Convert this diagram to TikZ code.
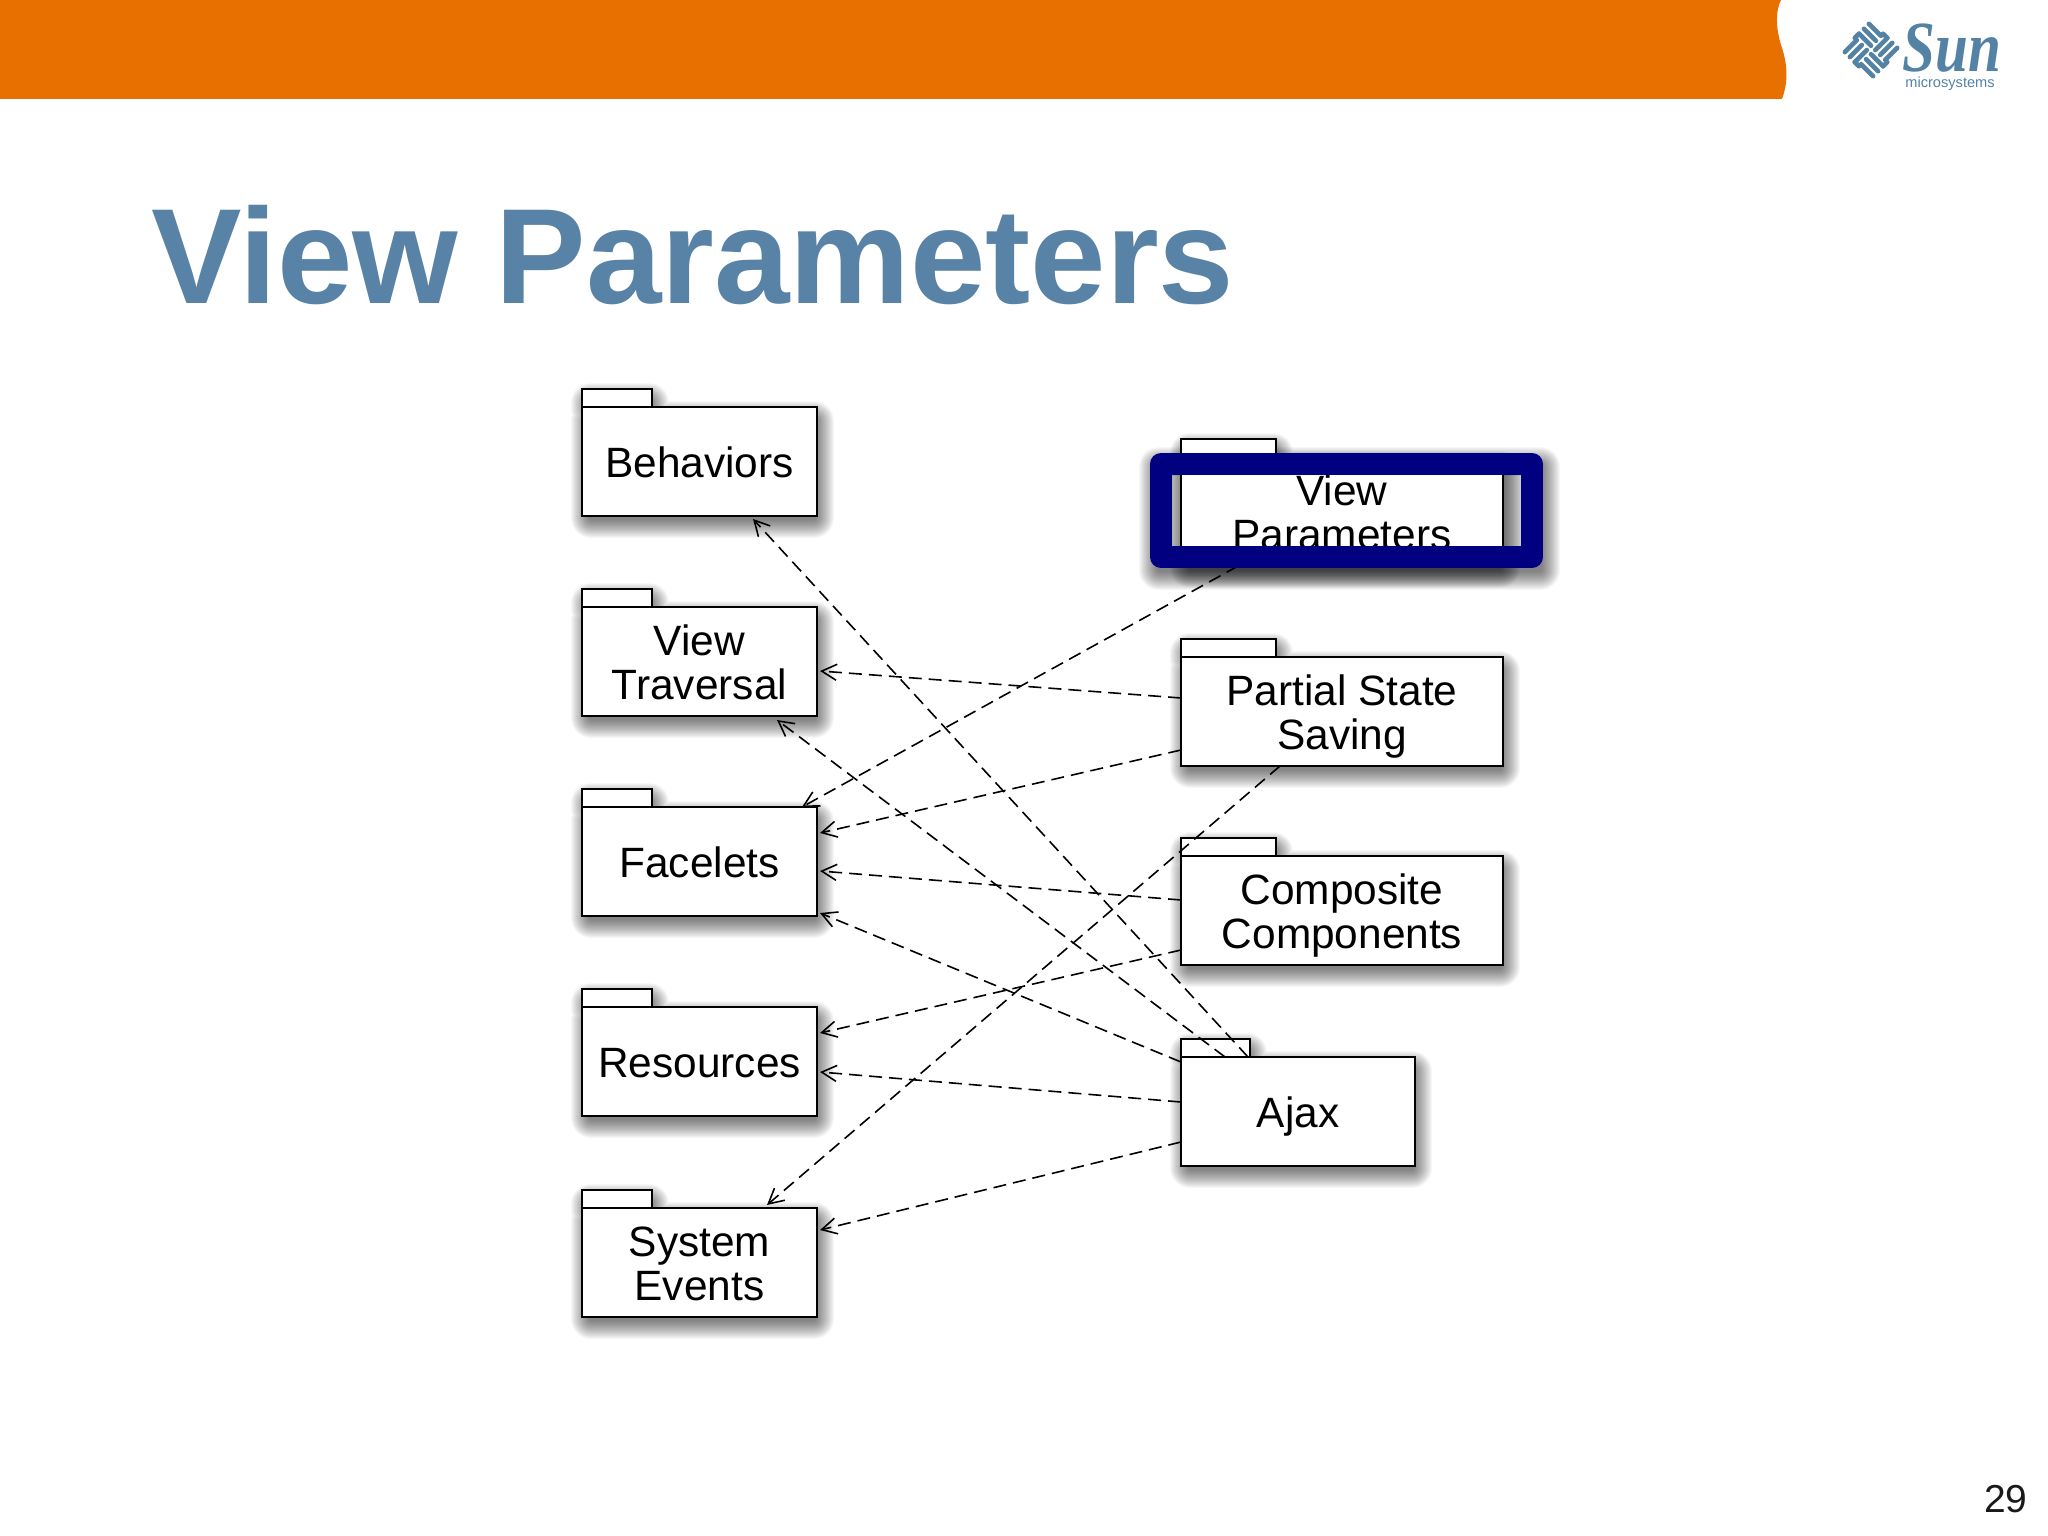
\documentclass[tikz,border=0pt]{standalone}
\usepackage{fontspec}
\setmainfont{Liberation Sans}
\newfontfamily\sunserif{Liberation Serif}
\usetikzlibrary{arrows.meta}
\definecolor{bannerorange}{RGB}{232,112,0}
\definecolor{titleblue}{RGB}{88,131,166}
\definecolor{logoblue}{RGB}{84,130,165}
\definecolor{framenavy}{RGB}{0,0,128}
\newcommand{\st}{\rule[-5.3pt]{0pt}{20.1pt}}
\newcommand{\sh}{\rule[-5.3pt]{0pt}{26.4pt}}
\tikzset{
  pkgbox/.style={draw=black,fill=white,line width=.8pt,inner sep=0pt,outer sep=0pt,align=center,
    font=\fontsize{21.2}{22.2}\selectfont},
  pkgtab/.style={draw=black,fill=white,line width=.8pt},
  dep/.style={draw=black,line width=.8pt,dash pattern=on 6.5pt off 3.5pt,
    -{Straight Barb[length=7.5pt,width=8pt,line width=.8pt]}},
  logobar/.style={draw=logoblue,line width=2.3pt,line cap=round,line join=round},
}
% shadow: x1 y1 x2 y2 tabwidth (tabwidth 0: no tab)
\newcommand{\pkgshadow}[5]{%
  \foreach \e in {14,13,...,-4}{
    \pgfmathsetmacro{\rad}{(\e+6)*0.5}
    \fill[black,opacity=.03,rounded corners=\rad pt]
      ({#1-\e+3},{#2-\e+8}) rectangle ({#3+\e+3},{#4+\e+8})
      \ifnum#5>0 ({#1-\e+3},{#2-18-\e+8}) rectangle ({#1+#5+\e+3},{#2+\e+8})\fi;
  }%
}
% body: name x1 y1 x2 y2 tabwidth text
\newcommand{\pkgbody}[7]{%
  \draw[pkgtab] (#2,#3-18) rectangle (#2+#6,#3);
  \node[pkgbox,minimum width={(#4-#2)*0.5pt},minimum height={(#5-#3)*0.5pt}] (#1)
    at ({(#2+#4)/2},{(#3+#5)/2}) {#7};
}
\newcommand{\pkg}[7]{\pkgshadow{#2}{#3}{#4}{#5}{#6}\pkgbody{#1}{#2}{#3}{#4}{#5}{#6}{#7}}
\begin{document}
\begin{tikzpicture}[x=0.5pt,y=-0.5pt]
\useasboundingbox (0,0) rectangle (2048,1535);
\fill[white] (0,0) rectangle (2048,1535);
% banner
\fill[bannerorange] (0,0) -- (1781,0) .. controls (1775,12) and (1776,28) .. (1781,45)
  .. controls (1787,62) and (1789,80) .. (1782,99) -- (0,99) -- cycle;
% logo
\begin{scope}[shift={(1871,50)},rotate=45]
  \foreach \a in {0,90,180,270}{
    \begin{scope}[rotate=\a]
      \draw[logobar] (3,-3) -- (3,-20);
      \draw[logobar] (10,-3) -- (10,-20);
      \draw[logobar] (17,-3) -- (17,-20);
      \draw[logobar] (3,-20) -- (-3,-20);
    \end{scope}
  }
\end{scope}
\node[anchor=base west,inner sep=0pt,text=logoblue,xscale=.82,text depth=0pt,font=\sunserif\itshape\bfseries\fontsize{36}{36}\selectfont] (sun) at (1902,72) {Sun};
\node[anchor=base west,inner sep=0pt,text=logoblue,text height=4pt,font=\fontsize{7.3}{7}\selectfont] (micro) at (1905,88) {microsystems};
% title and page number
\node[anchor=base west,inner sep=0pt,text=titleblue,font=\bfseries\fontsize{67.8}{70}\selectfont] (title) at (151,304) {View Parameters};
\node[anchor=base east,inner sep=0pt,text=black!90,font=\fontsize{19.5}{20}\selectfont] (page) at (2028,1512) {29};
% packages, left column
\pkg{beh}{582}{407}{817}{516}{70}{\sh Behaviors}
\pkg{trav}{582}{607}{817}{716}{70}{\sh View\\\st Traversal}
\pkg{fac}{582}{807}{817}{916}{70}{\sh Facelets}
\pkg{res}{582}{1007}{817}{1116}{70}{\sh Resources}
\pkg{sys}{582}{1208}{817}{1317}{70}{\sh System\\\st Events}
% packages, right column
\pkg{part}{1181}{657}{1503}{766}{95}{\sh Partial State\\\st Saving}
\pkg{comp}{1181}{856}{1503}{965}{95}{\sh Composite\\\st Components}
\pkg{ajax}{1181}{1057}{1415}{1166}{69}{\sh Ajax}
% highlighted package
\begin{scope}[even odd rule]
  \clip (1100,400) rectangle (1600,640) (1172,475) rectangle (1521,546);
  \pkgshadow{1150}{453}{1543}{568}{0}
\end{scope}
\fill[black,opacity=.2] (1172,475) rectangle (1521,546);
\pkgshadow{1181}{457}{1503}{566}{95}
\pkgbody{vp}{1181}{457}{1503}{566}{95}{\sh View\\\st Parameters}
% dependencies
\draw[dep] ([shift={(67,0)}]ajax.north west) -- ([shift={(171,3)}]beh.south west);
\draw[dep] ([shift={(44,0)}]ajax.north west) -- ([shift={(195,4)}]trav.south west);
\draw[dep] ([shift={(0,5)}]ajax.north west) -- ([shift={(3,-3)}]fac.south east);
\draw[dep] ([shift={(0,45)}]ajax.north west) -- ([shift={(3,65)}]res.north east);
\draw[dep] ([shift={(0,85)}]ajax.north west) -- ([shift={(3,22)}]sys.north east);
\draw[dep] ([shift={(57,0)}]vp.south west) -- ([shift={(220,0)}]fac.north west);
\draw[dep] ([shift={(0,41)}]part.north west) -- ([shift={(3,64)}]trav.north east);
\draw[dep] ([shift={(0,93)}]part.north west) -- ([shift={(3,26)}]fac.north east);
\draw[dep] ([shift={(99,0)}]part.south west) -- ([shift={(185,-3)}]sys.north west);
\draw[dep] ([shift={(0,44)}]comp.north west) -- ([shift={(3,64)}]fac.north east);
\draw[dep] ([shift={(0,94)}]comp.north west) -- ([shift={(3,26)}]res.north east);
% highlight frame
\node[draw=framenavy,line width=11pt,line join=round,inner sep=0pt,minimum width=185.5pt,minimum height=46.5pt] (frame) at (1346.5,510.5) {};
\end{tikzpicture}
\end{document}
